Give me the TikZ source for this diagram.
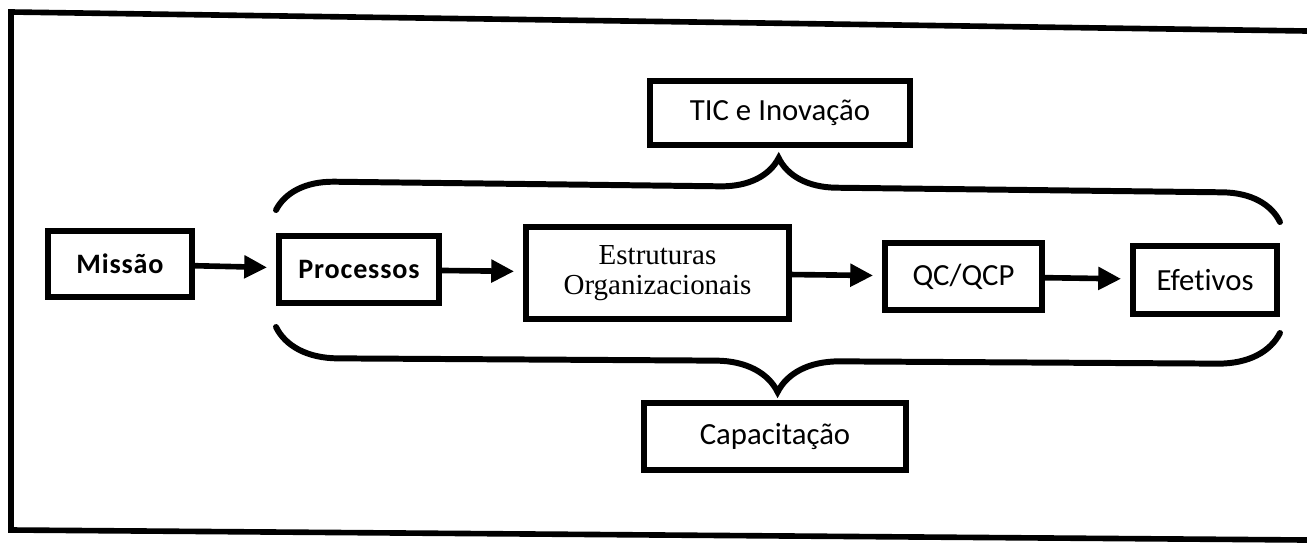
\documentclass[tikz,border=0pt]{standalone}
\usepackage{fontspec}
\setmainfont[Ligatures=NoCommon]{Carlito}
\newfontfamily\serifbox{Liberation Serif}
\usepackage{tikz}
\usetikzlibrary{arrows.meta, positioning, decorations.pathreplacing}

\begin{document}
\begin{tikzpicture}[
  x=0.02cm, y=-0.02cm,
  box/.style={draw, line width=3.6pt, inner sep=0pt, align=center, minimum height=1.34cm, font=\fontsize{17.5}{19}\selectfont},
  boldbox/.style={box, font=\fontsize{16}{19}\selectfont\bfseries\addfontfeature{LetterSpace=3}},
  arr/.style={-{Triangle[length=13pt, width=12.5pt]}, line width=3.2pt, shorten >=5pt},
  curly/.style={decorate, line width=3.4pt, line cap=round},
  frame/.style={line width=3.2pt}
]
  \useasboundingbox (0,0) rectangle (1307,542);

  % Outer frame (open on the right)
  \draw[frame] (1307,31) -- (11,12) -- (11,530) -- (1307,540);

  % Main chain
  \node[boldbox, minimum width=2.88cm, minimum height=1.32cm] (miss) at (120,264) {Missão};
  \node[boldbox, minimum width=3.2cm] (proc) at (359,269.5) {Processos};
  \node[box, minimum width=5.26cm, minimum height=1.84cm, font=\serifbox\fontsize{16.5}{17}\selectfont] (estr) at (657.5,273)
    {Estruturas\\Organizacionais};
  \node[box, minimum width=3.14cm] (qc) at (963.5,276.5) {QC/QCP};
  \node[box, minimum width=2.88cm, minimum height=1.36cm] (efet) at (1205,280) {Efetivos};

  % Top and bottom
  \node[box, minimum width=5.2cm, minimum height=1.28cm] (tic) at (780,113) {TIC e Inovação};
  \node[box, minimum width=5.24cm] (cap) at (775,436.5) {Capacitação};

  % Arrows
  \draw[arr] (miss) -- (proc);
  \draw[arr] (proc) -- (estr);
  \draw[arr] (estr) -- (qc);
  \draw[arr] (qc) -- (efet);

  % Braces
  \coordinate (tl) at (276,210);
  \coordinate (tr) at (1280,222);
  \coordinate (bl) at (276,327);
  \coordinate (br) at (1280,333);
  \draw[curly, decoration={brace, amplitude=1.16cm}] (tl) -- (tr);
  \draw[curly, decoration={brace, mirror, amplitude=1.24cm}] (bl) -- (br);

\end{tikzpicture}
\end{document}
